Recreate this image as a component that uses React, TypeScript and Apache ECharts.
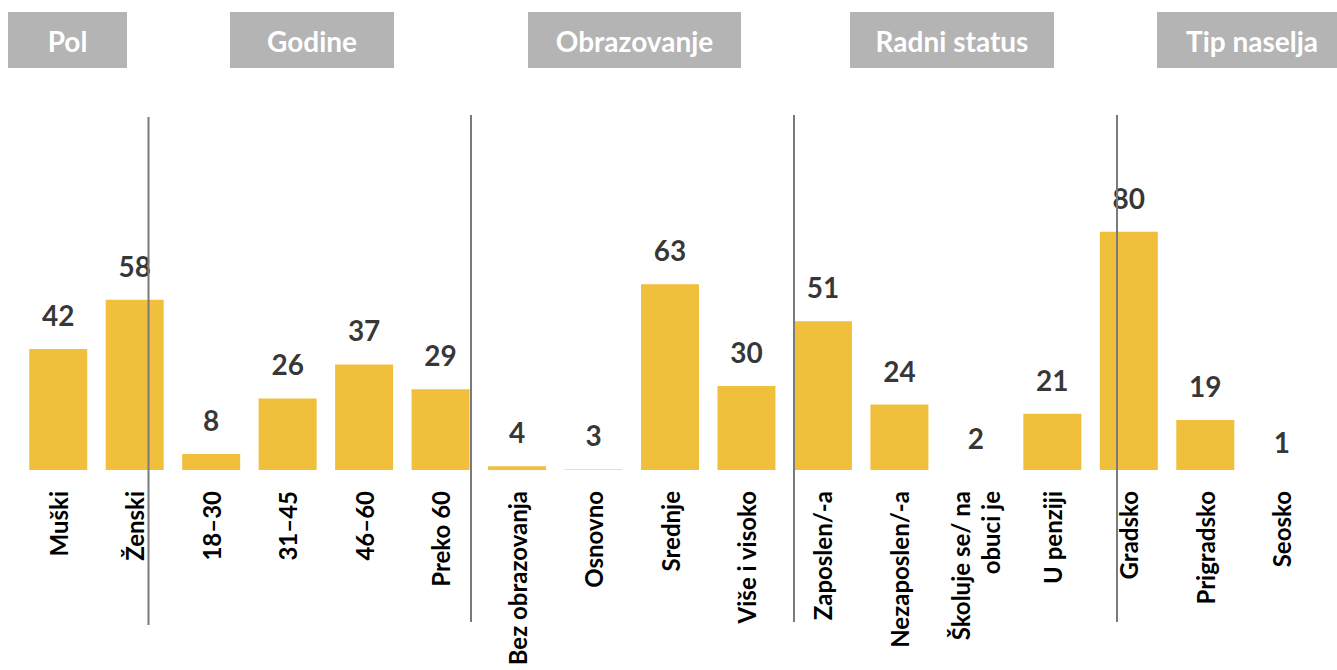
import React, { useEffect, useRef } from "react";
import * as echarts from "echarts";

const categories = [
  "Muški",
  "Ženski",
  "18–30",
  "31–45",
  "46–60",
  "Preko 60",
  "Bez obrazovanja",
  "Osnovno",
  "Srednje",
  "Više i visoko",
  "Zaposlen/-a",
  "Nezaposlen/-a",
  "Školuje se/ na\nobuci je",
  "U penziji",
  "Gradsko",
  "Prigradsko",
  "Seosko",
];
const values = [42, 58, 8, 26, 37, 29, 4, 3, 63, 30, 51, 24, 2, 21, 80, 19, 1];
const groups = ["Pol", "Godine", "Obrazovanje", "Radni status", "Tip naselja"];

const FONT = "Lato, 'Open Sans', sans-serif";

export default function App() {
  const ref = useRef<HTMLDivElement>(null);
  useEffect(() => {
    document.body.style.margin = "0";
    const chart = echarts.init(ref.current!, null, { renderer: "svg" });

    const headerBoxes = [
      { x: 8, w: 119, cx: 67.5 },
      { x: 230, w: 164, cx: 312 },
      { x: 528, w: 213, cx: 634.5 },
      { x: 850, w: 204, cx: 952 },
      { x: 1157, w: 190, cx: 1252 },
    ];
    const sepLines = [
      { x: 148.5, y1: 117, y2: 625 },
      { x: 471, y1: 115, y2: 622 },
      { x: 794, y1: 115, y2: 622 },
      { x: 1117, y1: 115, y2: 622 },
    ];

    const graphic: any[] = [];
    groups.forEach((g, i) => {
      const b = headerBoxes[i];
      graphic.push({
        type: "rect",
        shape: { x: b.x, y: 12, width: b.w, height: 56 },
        style: { fill: "#b4b4b4" },
        z: 10,
      });
      graphic.push({
        type: "text",
        x: b.cx,
        y: 41,
        style: {
          text: g,
          fill: "#ffffff",
          font: `bold 28px ${FONT}`,
          textAlign: "center",
          textVerticalAlign: "middle",
        },
        z: 11,
      });
    });
    sepLines.forEach((l) => {
      graphic.push({
        type: "line",
        shape: { x1: l.x, y1: l.y1, x2: l.x, y2: l.y2 },
        style: { stroke: "#7a7a7a", lineWidth: 2 },
        z: 100,
      });
    });

    chart.setOption({
      animation: false,
      grid: { left: 20, right: 17, top: 170, bottom: 200, containLabel: false },
      xAxis: {
        type: "category",
        data: categories,
        axisLine: { show: false },
        axisTick: { show: false },
        axisLabel: {
          interval: 0,
          rotate: 90,
          margin: 21,
          color: "#000",
          fontFamily: FONT,
          fontWeight: "bold",
          fontSize: 24,
          lineHeight: 30,
        },
      },
      yAxis: {
        type: "value",
        min: 2.8,
        max: 100,
        show: false,
        splitLine: { show: false },
      },
      graphic,
      series: [
        {
          type: "bar",
          data: values,
          barWidth: 58,
          clip: true,
          itemStyle: { color: "#F0BF3B" },
        },
        {
          type: "scatter",
          data: values,
          symbolSize: 0,
          clip: false,
          itemStyle: { color: "transparent" },
          label: {
            show: true,
            position: "top",
            distance: 20,
            color: "#000",
            fontFamily: FONT,
            fontWeight: "bold",
            fontSize: 28,
            formatter: "{c}",
          },
          z: 5,
        },
      ],
    });
    return () => chart.dispose();
  }, []);
  return <div ref={ref} style={{ width: 1337, height: 670 }} />;
}
